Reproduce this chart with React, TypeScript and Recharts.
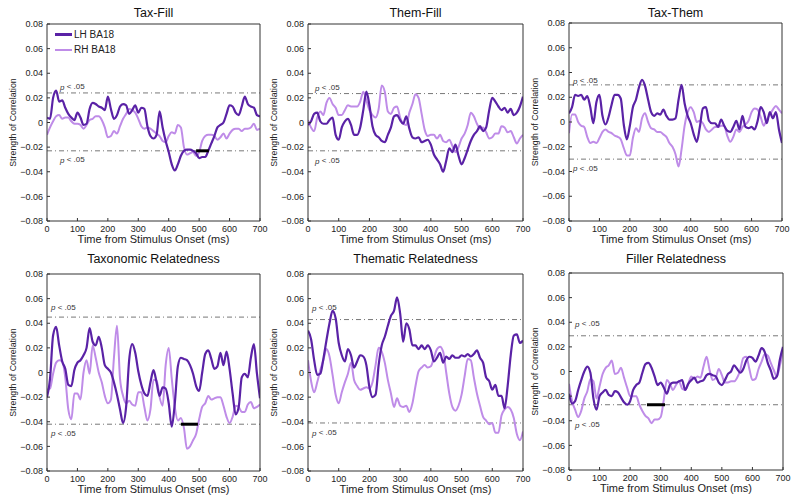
import { LineChart, Line, XAxis, YAxis, ReferenceLine, Legend } from 'recharts'

// sampling grid: every 10 ms from 0 to 700
const TIME = Array.from({ length: 71 }, (_, i) => i * 10)
const X_TICKS = [0, 100, 200, 300, 400, 500, 600, 700]
const Y_TICKS = [-0.08, -0.06, -0.04, -0.02, 0, 0.02, 0.04, 0.06, 0.08]

// Tax-Fill
const TAX_FILL_LH = [
  0.004, 0.003, 0.020, 0.026, 0.017, 0.018, 0.012, 0.007, 0.004, 0.002,
  0.008, 0.004, -0.002, -0.001, 0.011, 0.016, 0.015, 0.013, 0.012, 0.010,
  0.021, 0.011, 0.003, 0.006, 0.013, 0.015, 0.014, 0.007, 0.010, 0.014,
  0.008, 0.012, 0.011, -0.003, -0.011, -0.013, -0.010, 0.009, -0.004, -0.015,
  -0.024, -0.034, -0.039, -0.034, -0.027, -0.023, -0.022, -0.022, -0.023, -0.025,
  -0.029, -0.028, -0.028, -0.023, -0.017, -0.011, -0.004, -0.002, 0.000, 0.007,
  0.014, 0.013, 0.008, 0.006, 0.013, 0.021, 0.015, 0.013, 0.012, 0.006,
  0.005,
]
const TAX_FILL_RH = [
  -0.010, -0.004, 0.001, 0.005, 0.006, 0.003, 0.004, 0.004, 0.001, -0.001,
  -0.001, -0.002, -0.005, -0.002, 0.002, 0.003, 0.005, 0.005, 0.002, -0.004,
  -0.012, -0.011, -0.007, -0.009, -0.003, 0.003, 0.007, 0.011, 0.010, 0.008,
  0.003, -0.003, -0.005, -0.004, -0.005, -0.007, -0.009, -0.011, -0.015, -0.016,
  -0.011, -0.008, -0.009, -0.002, -0.004, -0.020, -0.026, -0.025, -0.024, -0.027,
  -0.024, -0.015, -0.011, -0.010, -0.010, -0.011, -0.014, -0.012, -0.009, -0.013,
  -0.009, -0.006, -0.005, -0.005, -0.007, -0.005, -0.005, -0.004, -0.001, -0.006,
  -0.005,
]
const TAX_FILL_P = [0.024, -0.023]
const TAX_FILL_SIG = [490, 532]

// Them-Fill
const THEM_FILL_LH = [
  -0.002, 0.001, 0.007, 0.008, 0.001, -0.001, -0.001, 0.002, 0.004, -0.010,
  -0.014, -0.004, 0.001, 0.003, -0.002, -0.010, -0.010, -0.004, 0.010, 0.025,
  0.014, -0.003, -0.010, -0.012, -0.015, -0.016, -0.010, -0.004, 0.005, 0.006,
  0.002, -0.001, 0.005, -0.005, -0.012, -0.013, -0.012, -0.016, -0.015, -0.014,
  -0.018, -0.026, -0.030, -0.034, -0.040, -0.031, -0.021, -0.024, -0.018, -0.027,
  -0.034, -0.029, -0.022, -0.015, -0.010, -0.007, -0.003, -0.007, -0.004, 0.010,
  0.020, 0.017, 0.013, 0.010, 0.012, 0.008, 0.011, 0.006, 0.008, 0.013,
  0.021,
]
const THEM_FILL_RH = [
  0.002, -0.004, -0.007, 0.004, 0.009, 0.006, 0.016, 0.020, 0.015, 0.012,
  0.006, 0.006, 0.010, 0.014, 0.013, 0.013, 0.013, 0.017, 0.025, 0.018,
  0.010, 0.006, 0.004, 0.011, 0.030, 0.025, 0.009, 0.007, 0.012, 0.013,
  0.004, -0.001, -0.002, 0.008, 0.015, 0.023, 0.020, 0.007, -0.006, -0.011,
  -0.010, -0.010, -0.013, -0.010, -0.015, -0.016, -0.014, -0.019, -0.024, -0.020,
  -0.013, -0.009, -0.002, 0.008, 0.005, -0.001, -0.005, -0.004, -0.008, -0.013,
  -0.012, -0.009, -0.009, -0.003, -0.004, -0.008, -0.007, -0.012, -0.017, -0.013,
  -0.010,
]
const THEM_FILL_P = [0.0235, -0.023]

// Tax-Them
const TAX_THEM_LH = [
  0.007, 0.012, 0.022, 0.021, 0.022, 0.018, 0.021, 0.012, -0.001, 0.016,
  0.022, 0.005, -0.002, 0.004, 0.014, 0.022, 0.022, 0.019, -0.002, -0.014,
  -0.003, 0.012, 0.018, 0.028, 0.034, 0.029, 0.018, 0.008, 0.005, 0.007,
  0.006, 0.010, 0.005, 0.002, 0.002, 0.003, 0.018, 0.030, 0.015, 0.005,
  -0.001, -0.010, -0.016, -0.004, 0.011, 0.012, 0.001, -0.001, -0.001, -0.004,
  0.002, -0.003, -0.007, -0.008, -0.004, 0.001, -0.006, 0.005, -0.004, -0.005,
  -0.004, -0.006, 0.001, 0.012, 0.008, -0.001, 0.008, 0.003, 0.008, -0.006,
  -0.017,
]
const TAX_THEM_RH = [
  -0.009, 0.006, 0.006, 0.000, -0.003, -0.004, -0.012, -0.017, -0.016, -0.017,
  -0.013, -0.008, -0.006, -0.008, -0.009, -0.011, -0.012, -0.014, -0.021, -0.027,
  -0.027, -0.013, -0.005, -0.008, 0.003, 0.007, 0.000, -0.005, -0.006, -0.008,
  -0.008, -0.010, -0.012, -0.017, -0.020, -0.026, -0.036, -0.022, -0.003, 0.008,
  0.012, 0.008, 0.000, 0.001, -0.001, -0.006, -0.008, -0.006, -0.004, -0.004,
  -0.003, -0.003, -0.011, -0.016, -0.012, -0.006, -0.008, -0.004, -0.002, 0.001,
  0.008, 0.011, 0.010, 0.004, -0.003, 0.002, 0.006, 0.010, 0.013, 0.010,
  0.007,
]
const TAX_THEM_P = [0.030, -0.030]

// Taxonomic Relatedness
const TAXONOMIC_LH = [
  -0.020, -0.005, 0.030, 0.037, 0.022, 0.009, 0.003, -0.010, -0.011, 0.002,
  0.008, 0.010, 0.014, 0.020, 0.036, 0.025, 0.022, 0.029, 0.020, 0.006,
  0.003, 0.000, -0.008, -0.018, -0.030, -0.041, -0.028, 0.010, 0.023, 0.016,
  0.001, -0.010, -0.017, -0.019, -0.008, 0.002, -0.008, -0.019, -0.012, -0.013,
  -0.025, -0.044, -0.025, 0.005, 0.012, 0.011, 0.010, 0.006, -0.001, -0.011,
  -0.015, 0.000, 0.015, 0.018, 0.011, 0.003, 0.005, 0.016, 0.006, 0.017,
  0.003, -0.017, -0.034, -0.028, -0.004, -0.001, -0.004, 0.012, 0.023, -0.001,
  -0.021,
]
const TAXONOMIC_RH = [
  -0.014, -0.013, -0.001, 0.008, 0.010, 0.009, -0.004, -0.030, -0.038, -0.017,
  -0.017, -0.022, 0.000, 0.010, -0.001, 0.022, 0.012, 0.000, -0.008, -0.019,
  -0.025, -0.022, 0.012, 0.038, -0.005, -0.019, -0.025, -0.023, -0.026, -0.027,
  -0.016, -0.016, -0.028, -0.039, -0.030, -0.006, -0.006, -0.020, -0.027, 0.006,
  0.020, -0.005, -0.028, -0.039, -0.037, -0.045, -0.062, -0.060, -0.055, -0.050,
  -0.038, -0.028, -0.025, -0.019, -0.022, -0.021, -0.020, -0.020, -0.027, -0.036,
  -0.041, -0.036, -0.027, -0.028, -0.032, -0.032, -0.026, -0.024, -0.029, -0.028,
  -0.026,
]
const TAXONOMIC_P = [0.045, -0.042]
const TAXONOMIC_SIG = [440, 496]

// Thematic Relatedness
const THEMATIC_LH = [
  0.034, 0.027, 0.010, -0.002, -0.001, 0.011, 0.026, 0.040, 0.050, 0.044,
  0.024, 0.014, 0.009, 0.019, 0.014, 0.004, 0.009, 0.014, 0.013, 0.006,
  -0.012, -0.020, -0.018, 0.006, 0.022, 0.029, 0.038, 0.046, 0.050, 0.061,
  0.048, 0.025, 0.040, 0.035, 0.022, 0.022, 0.019, 0.022, 0.019, 0.022,
  0.018, 0.009, 0.012, 0.016, 0.008, 0.013, 0.011, 0.014, 0.012, 0.012,
  0.014, 0.013, 0.015, 0.013, 0.015, 0.018, 0.012, 0.008, -0.004, -0.007,
  -0.014, -0.010, -0.019, -0.019, -0.029, -0.011, 0.014, 0.030, 0.031, 0.024,
  0.026,
]
const THEMATIC_RH = [
  0.010, -0.007, -0.016, -0.008, 0.002, 0.010, 0.019, 0.013, -0.002, -0.018,
  -0.025, -0.016, -0.008, -0.001, 0.008, -0.006, -0.011, -0.014, -0.013, -0.012,
  -0.013, -0.008, 0.006, 0.020, 0.017, 0.008, -0.006, -0.017, -0.028, -0.021,
  -0.027, -0.028, -0.027, -0.032, -0.025, -0.011, 0.001, 0.004, 0.006, 0.004,
  0.005, 0.012, 0.019, 0.021, 0.017, 0.000, -0.017, -0.028, -0.031, -0.027,
  -0.018, -0.003, 0.011, 0.010, -0.004, -0.017, -0.027, -0.036, -0.039, -0.042,
  -0.041, -0.049, -0.049, -0.035, -0.030, -0.028, -0.030, -0.037, -0.050, -0.055,
  -0.048,
]
const THEMATIC_P = [0.043, -0.041]

// Filler Relatedness
const FILLER_LH = [
  -0.018, -0.026, -0.024, -0.015, -0.007, 0.000, 0.004, -0.001, -0.022, -0.031,
  -0.020, -0.017, -0.015, -0.019, -0.020, -0.016, -0.017, -0.021, -0.025, -0.027,
  -0.024, -0.015, -0.011, -0.009, -0.001, 0.006, 0.007, 0.003, -0.004, -0.011,
  -0.009, -0.013, -0.018, -0.011, -0.009, -0.009, -0.008, -0.007, -0.015, -0.010,
  -0.007, -0.005, -0.009, -0.008, -0.007, -0.003, -0.002, -0.003, -0.004, -0.009,
  -0.011, -0.007, -0.002, 0.000, 0.005, 0.002, -0.001, 0.002, 0.009, 0.012,
  0.011, 0.008, 0.013, 0.019, 0.016, 0.007, 0.001, -0.006, -0.004, 0.010,
  0.020,
]
const FILLER_RH = [
  -0.010, -0.024, -0.031, -0.037, -0.032, -0.022, -0.016, -0.006, -0.008, -0.022,
  -0.012, -0.002, 0.003, 0.005, 0.009, -0.002, -0.001, 0.003, -0.005, -0.013,
  -0.020, -0.020, -0.020, -0.027, -0.032, -0.036, -0.038, -0.042, -0.039, -0.039,
  -0.037, -0.023, -0.007, -0.010, -0.015, -0.011, -0.008, -0.014, -0.015, -0.010,
  -0.004, -0.006, -0.004, -0.005, 0.004, 0.012, 0.001, -0.007, -0.005, 0.002,
  -0.003, -0.009, -0.009, -0.008, -0.008, -0.005, 0.001, 0.011, 0.012, 0.002,
  -0.007, -0.006, 0.002, 0.008, 0.014, 0.013, 0.007, 0.001, -0.004, 0.005,
  0.017,
]
const FILLER_P = [0.029, -0.027]
const FILLER_SIG = [255, 314]

const LH_COLOR = '#5a22a6'
const RH_COLOR = '#bf8ce8'
const AXIS = '#333'
const FONT = '"Liberation Sans", Arial, Helvetica, sans-serif'

// layout of each panel (plot box in page pixels)
const PANELS = [
  { title: 'Tax-Fill', lh: TAX_FILL_LH, rh: TAX_FILL_RH, p: TAX_FILL_P, sig: TAX_FILL_SIG,
    box: { x: 47, y: 24, w: 213, h: 197 }, titleY: 13, lab: { dx: 13, up: 6, down: 9 }, legend: true },
  { title: 'Them-Fill', lh: THEM_FILL_LH, rh: THEM_FILL_RH, p: THEM_FILL_P, sig: null,
    box: { x: 308, y: 24, w: 215, h: 197 }, titleY: 13, lab: { dx: 7, up: 6, down: 10 } },
  { title: 'Tax-Them', lh: TAX_THEM_LH, rh: TAX_THEM_RH, p: TAX_THEM_P, sig: null,
    box: { x: 569, y: 23, w: 213, h: 198 }, titleY: 13, lab: { dx: 4, up: 4, down: 9 } },
  { title: 'Taxonomic Relatedness', lh: TAXONOMIC_LH, rh: TAXONOMIC_RH, p: TAXONOMIC_P, sig: TAXONOMIC_SIG,
    box: { x: 47, y: 274, w: 213, h: 197 }, titleY: 259, lab: { dx: 4, up: 10, down: 9 } },
  { title: 'Thematic Relatedness', lh: THEMATIC_LH, rh: THEMATIC_RH, p: THEMATIC_P, sig: null,
    box: { x: 308, y: 274, w: 215, h: 197 }, titleY: 259, lab: { dx: 4, up: 12, down: 10 } },
  { title: 'Filler Relatedness', lh: FILLER_LH, rh: FILLER_RH, p: FILLER_P, sig: FILLER_SIG,
    box: { x: 569, y: 273, w: 214, h: 197 }, titleY: 259, lab: { dx: 6, up: 12, down: 20 } },
]

function fmtY(v: number) {
  if (Math.abs(v) < 1e-9) return '0'
  return (v < 0 ? '\u2212' : '') + Math.abs(v).toFixed(2)
}

const PLabel = ({ viewBox, px, py }: any) => (
  <text x={viewBox.x + px} y={viewBox.y + py} fontSize={8} fill="#333" fontFamily={FONT} dominantBaseline="central">
    <tspan fontStyle="italic">p</tspan>{' < .05'}
  </text>
)

const XTitle = ({ viewBox }: any) => (
  <text x={viewBox.x + viewBox.width / 2} y={viewBox.y + 18} fontSize={11} fill="#222"
    fontFamily={FONT} textAnchor="middle" dominantBaseline="central">
    Time from Stimulus Onset (ms)
  </text>
)

const YTitle = ({ viewBox }: any) => {
  const cx = viewBox.x + viewBox.width - 34
  const cy = viewBox.y + viewBox.height / 2
  return (
    <text x={cx} y={cy} transform={`rotate(-90 ${cx} ${cy})`} fontSize={8.8} fill="#222"
      fontFamily={FONT} textAnchor="middle" dominantBaseline="central">
      Strength of Correlation
    </text>
  )
}

const LegendBox = ({ payload }: any) => {
  const items = [...(payload || [])].sort((a: any, b: any) => (a.value > b.value ? 1 : -1))
  return (
    <div style={{ fontFamily: FONT, fontSize: 10, color: '#222' }}>
      {items.map((it: any) => (
        <div key={it.value} style={{ display: 'flex', alignItems: 'center', height: 15, whiteSpace: 'nowrap' }}>
          <span style={{ display: 'inline-block', width: 17, height: it.value.startsWith('LH') ? 2.5 : 2, background: it.color, marginRight: 2 }} />
          {it.value}
        </div>
      ))}
    </div>
  )
}

function Panel({ cfg }: { cfg: any }) {
  const { title, lh, rh, p, sig, box, titleY, lab, legend } = cfg
  const data = TIME.map((t, i) => ({ t, lh: lh[i], rh: rh[i] }))
  const left = box.x - 47
  const top = box.y - 24
  const tickStyle = { fontSize: 9, fill: '#222', fontFamily: FONT }
  return (
    <>
      <div style={{
        position: 'absolute', left: box.x - 20, width: box.w + 40, top: titleY - 9, height: 18,
        textAlign: 'center', fontSize: 12.5, lineHeight: '18px', color: '#111', fontFamily: FONT,
      }}>{title}</div>
      <div style={{ position: 'absolute', left, top }}>
        <LineChart width={box.w + 59} height={box.h + 53} data={data}
          margin={{ top: 23, right: 11, bottom: 5, left: 0 }}>
          <XAxis dataKey="t" type="number" domain={[0, 700]} ticks={X_TICKS} interval={0}
            height={24} tickSize={-3} tickMargin={8} stroke={AXIS} tick={tickStyle}
            allowDataOverflow label={<XTitle />} />
          <XAxis xAxisId="top" orientation="top" dataKey="t" type="number" domain={[0, 700]}
            ticks={X_TICKS} interval={0} height={1} tick={false} tickSize={-3} stroke={AXIS} />
          <YAxis type="number" domain={[-0.08, 0.08]} ticks={Y_TICKS} interval={0} width={47}
            tickSize={-3} tickMargin={7} tickFormatter={fmtY} stroke={AXIS} tick={tickStyle}
            allowDataOverflow label={<YTitle />} />
          <YAxis yAxisId="right" orientation="right" type="number" domain={[-0.08, 0.08]}
            ticks={Y_TICKS} interval={0} width={1} tick={false} tickSize={-3} stroke={AXIS} />
          <ReferenceLine y={p[0]} stroke="#555" strokeWidth={0.8} strokeDasharray="5 3 1 3"
            label={<PLabel px={lab.dx} py={-lab.up} />} />
          <ReferenceLine y={p[1]} stroke="#555" strokeWidth={0.8} strokeDasharray="5 3 1 3"
            label={<PLabel px={lab.dx} py={lab.down} />} />
          <Line dataKey="rh" name="RH BA18" type="monotone" stroke={RH_COLOR} strokeWidth={2}
            dot={false} activeDot={false} isAnimationActive={false} />
          <Line dataKey="lh" name="LH BA18" type="monotone" stroke={LH_COLOR} strokeWidth={2.2}
            dot={false} activeDot={false} isAnimationActive={false} />
          {sig && (
            <ReferenceLine segment={[{ x: sig[0], y: p[1] }, { x: sig[1], y: p[1] }]}
              stroke="#000" strokeWidth={3} />
          )}
          {legend && (
            <Legend layout="vertical" align="center" verticalAlign="middle" content={<LegendBox />}
              wrapperStyle={{ left: 55, top: 27, width: 'auto', height: 'auto', bottom: 'auto', right: 'auto' }} />
          )}
        </LineChart>
      </div>
    </>
  )
}

export default function App() {
  return (
    <div style={{ position: 'absolute', left: 0, top: 0, width: 800, height: 501, background: '#fff', overflow: 'hidden' }}>
      {PANELS.map((cfg) => <Panel key={cfg.title} cfg={cfg} />)}
    </div>
  )
}
